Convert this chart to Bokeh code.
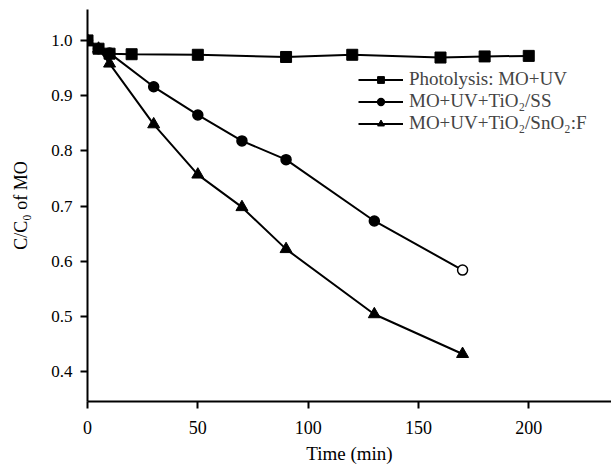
from bokeh.plotting import figure
from bokeh.models import (Range1d, FixedTicker, Legend, LegendItem, ColumnDataSource,
                          CustomJSTickFormatter)
from bokeh.embed import file_html
from bokeh.resources import INLINE

# Data
photo_t = [0, 5, 10, 20, 50, 90, 120, 160, 180, 200]
photo_c = [1.0, 0.985, 0.976, 0.975, 0.974, 0.970, 0.974, 0.969, 0.971, 0.972]

ss_t = [0, 5, 10, 30, 50, 70, 90, 130, 170]
ss_c = [1.0, 0.985, 0.977, 0.916, 0.865, 0.818, 0.784, 0.673, 0.584]

fto_t = [0, 5, 10, 30, 50, 70, 90, 130, 170]
fto_c = [1.0, 0.985, 0.958, 0.848, 0.757, 0.698, 0.622, 0.504, 0.432]

x_ticks = [0, 50, 100, 150, 200]
y_ticks = [0.4, 0.5, 0.6, 0.7, 0.8, 0.9, 1.0]

labels = ["Photolysis: MO+UV", "MO+UV+TiO\u2082/SS", "MO+UV+TiO\u2082/SnO\u2082:F"]

FONT = "Liberation Serif"

p = figure(width=611, height=466, output_backend="svg", toolbar_location=None,
           x_range=Range1d(0, 237.5), y_range=Range1d(0.346, 1.056),
           min_border_left=87, min_border_right=0, min_border_top=9, min_border_bottom=64)
p.outline_line_color = None
p.grid.visible = False
p.background_fill_color = "white"

for ax in (p.xaxis[0], p.yaxis[0]):
    ax.axis_line_width = 2
    ax.major_tick_line_width = 2
    ax.major_tick_in = 0
    ax.major_tick_out = 7
    ax.minor_tick_line_color = None
    ax.major_label_text_font = FONT
    ax.major_label_text_color = "black"
    ax.axis_label_text_font = FONT
    ax.axis_label_text_font_style = "normal"
    ax.axis_label_text_color = "black"

p.xaxis.major_label_text_font_size = "18px"
p.yaxis.major_label_text_font_size = "17px"
p.xaxis.axis_label_text_font_size = "19px"
p.yaxis.axis_label_text_font_size = "18px"

p.xaxis.ticker = FixedTicker(ticks=x_ticks)
p.yaxis.ticker = FixedTicker(ticks=y_ticks)
p.yaxis.formatter = CustomJSTickFormatter(code="return tick.toFixed(1);")
p.xaxis.major_label_standoff = 12
p.yaxis.major_label_standoff = 8
p.xaxis.axis_label = "Time (min)"
p.yaxis.axis_label = "C/C\u2080 of MO"
p.xaxis.axis_label_standoff = 6
p.yaxis.axis_label_standoff = 17

src_ss = ColumnDataSource(dict(t=ss_t, c=ss_c,
                               fill=["black"] * (len(ss_t) - 1) + ["white"]))

l1 = p.line(photo_t, photo_c, line_color="black", line_width=2)
s1 = p.scatter(photo_t, photo_c, marker="square", size=11, color="black")
l2 = p.line("t", "c", source=src_ss, line_color="black", line_width=2)
s2 = p.scatter("t", "c", source=src_ss, marker="circle", size=10,
               line_color="black", fill_color="fill", line_width=1.5)
l3 = p.line(fto_t, fto_c, line_color="black", line_width=2)
s3 = p.scatter(fto_t, fto_c, marker="triangle", size=12, color="black")

legend = Legend(items=[LegendItem(label=labels[0], renderers=[l1, s1]),
                       LegendItem(label=labels[1], renderers=[l2, s2], index=0),
                       LegendItem(label=labels[2], renderers=[l3, s3])],
                location=(271, 267), border_line_color=None, background_fill_alpha=0,
                padding=0, margin=0, spacing=0, glyph_width=45, glyph_height=17,
                label_height=17, label_standoff=6,
                label_text_font=FONT, label_text_font_size="19px")
p.add_layout(legend, "center")

open("out.html", "w").write(file_html(p, INLINE))
